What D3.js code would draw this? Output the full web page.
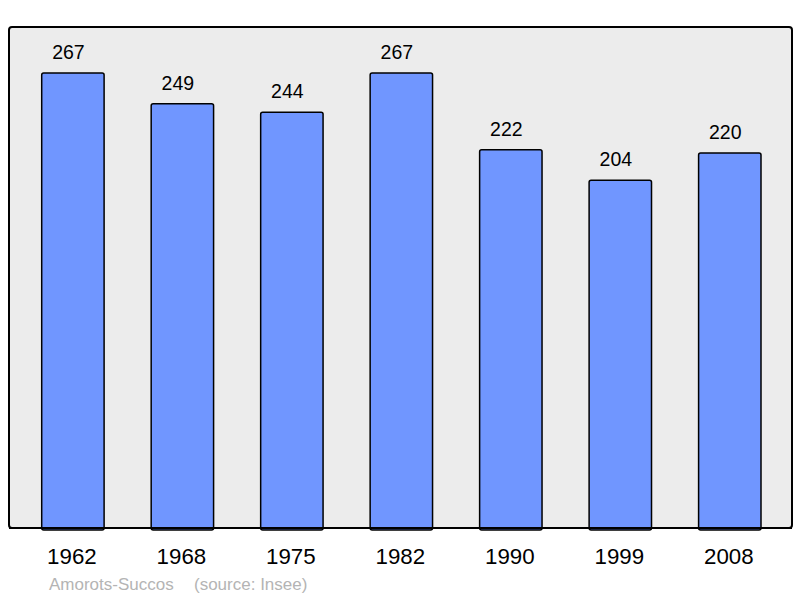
<!DOCTYPE html>
<html>
<head>
<meta charset="utf-8">
<script src="https://cdn.jsdelivr.net/npm/d3@7"></script>
<style>
  body { margin: 0; background: #fff; }
  text { font-family: "Liberation Sans", Arial, sans-serif; }
</style>
</head>
<body>
<svg id="chart"></svg>
<script>
const years = ["1962", "1968", "1975", "1982", "1990", "1999", "2008"];
const population = [267, 249, 244, 267, 222, 204, 220];
const commune = "Amorots-Succos";
const source = "(source: Insee)";

const width = 800, height = 598;
const svg = d3.select("#chart").attr("width", width).attr("height", height);

// plot frame
const frameLeft = 9, frameRight = 792, frameTop = 27, frameBottom = 528;

svg.append("rect")
  .attr("x", frameLeft).attr("y", frameTop)
  .attr("width", frameRight - frameLeft).attr("height", frameBottom - frameTop)
  .attr("rx", 3)
  .attr("fill", "#ececec")
  .attr("stroke", "#000")
  .attr("stroke-width", 2);

const x = d3.scaleBand()
  .domain(years)
  .range([41.7, 761])
  .paddingInner(0.43)
  .paddingOuter(0);

const y = d3.scaleLinear()
  .domain([0, 294])
  .range([frameBottom, frameTop]);

const data = years.map((yr, i) => ({ year: yr, value: population[i] }));

svg.append("g")
  .selectAll("rect")
  .data(data)
  .join("rect")
    .attr("x", d => x(d.year))
    .attr("y", d => y(d.value))
    .attr("width", x.bandwidth())
    .attr("height", d => frameBottom - y(d.value) + 2)
    .attr("rx", 2)
    .attr("fill", "#7096ff")
    .attr("stroke", "#000")
    .attr("stroke-width", 1.5);

// redraw bottom frame line over bars
svg.append("line")
  .attr("x1", frameLeft).attr("x2", frameRight)
  .attr("y1", frameBottom).attr("y2", frameBottom)
  .attr("stroke", "#000").attr("stroke-width", 2);

svg.append("g")
  .selectAll("text")
  .data(data)
  .join("text")
    .attr("x", d => x(d.year) + x.bandwidth() / 2 - 4.5)
    .attr("y", d => y(d.value) - 14)
    .attr("text-anchor", "middle")
    .style("font-size", "19.5px")
    .style("fill", "#000")
    .text(d => d.value);

const axis = d3.axisBottom(x).tickSize(0).tickPadding(0);
const gx = svg.append("g")
  .attr("transform", "translate(-1," + frameBottom + ")")
  .call(axis);
gx.select(".domain").remove();
gx.selectAll("text")
  .attr("dy", null)
  .attr("y", 35.5)
  .style("font-size", "22.3px")
  .style("font-family", "Liberation Sans, Arial, sans-serif")
  .style("fill", "#000");

svg.append("text")
  .attr("x", 49).attr("y", 590)
  .style("font-size", "17px")
  .style("fill", "#b4b4b4")
  .text(commune);

svg.append("text")
  .attr("x", 194).attr("y", 590)
  .style("font-size", "17px")
  .style("fill", "#b4b4b4")
  .text(source);
</script>
</body>
</html>
